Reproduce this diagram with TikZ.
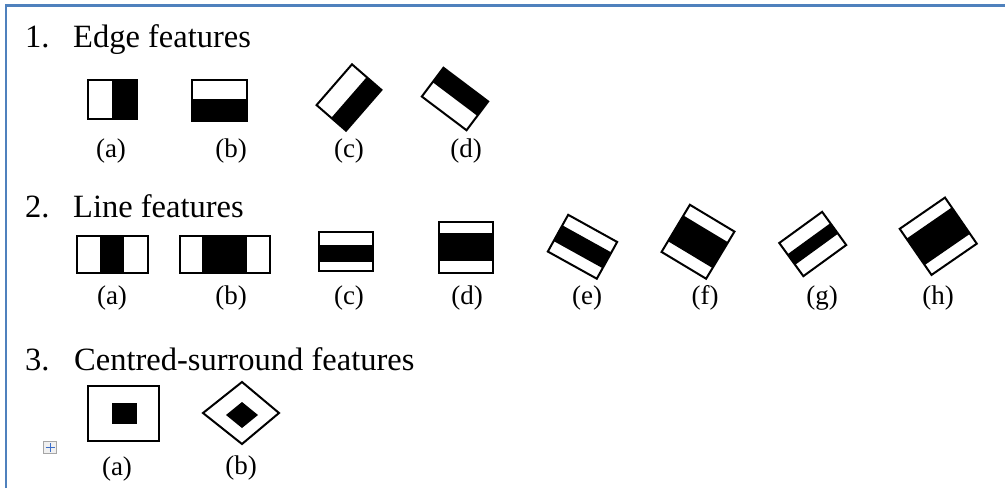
\documentclass[tikz,border=0pt]{standalone}
\usepackage{fontspec}
\setmainfont{Liberation Serif}
\definecolor{bordercol}{RGB}{79,129,189}
\definecolor{iconblue}{RGB}{60,110,200}
\tikzset{
  fbox/.style={draw=black, line width=2pt},
  ffill/.style={fill=black},
  title/.style={anchor=base west, inner sep=0pt, font=\fontsize{32.5}{38}\selectfont},
  lab/.style={anchor=center, inner sep=0pt, font=\fontsize{27}{32}\selectfont},
}
\begin{document}
\begin{tikzpicture}[x=1pt,y=1pt]
\useasboundingbox (0,0) rectangle (1005,-488);
\fill[white] (0,0) rectangle (1005,-488);
% frame
\draw[bordercol, line width=2.5pt] (6.2,-488) -- (6.2,-5.3) -- (1005,-5.3);

% ---------- titles ----------
\node[title] (n1) at (25,-47) {1.};
\node[title] (t1) at (73,-47) {Edge features};
\node[title] (n2) at (25,-217) {2.};
\node[title] (t2) at (73,-217) {Line features};
\node[title] (n3) at (25,-370) {3.};
\node[title] (t3) at (74,-370) {Centred-surround features};

% ---------- 1. Edge features ----------
\fill[ffill] (112,-80) rectangle (137,-119);
\draw[fbox] (88,-80) rectangle (137,-119);
\fill[ffill] (192,-99) rectangle (247,-121);
\draw[fbox] (192,-80) rectangle (247,-121);
\begin{scope}[shift={(349,-97.5)}, rotate=49]
  \fill[ffill] (-27,-19.5) rectangle (27,0);
  \draw[fbox] (-27,-19.5) rectangle (27,19.5);
\end{scope}
\begin{scope}[shift={(455,-99)}, rotate=-37]
  \fill[ffill] (-28,0) rectangle (28,18);
  \draw[fbox] (-28,-18) rectangle (28,18);
\end{scope}
\node[lab] (ea) at (111,-151) {(a)};
\node[lab] (eb) at (231,-151) {(b)};
\node[lab] (ec) at (349,-151) {(c)};
\node[lab] (ed) at (466,-151) {(d)};

% ---------- 2. Line features ----------
\fill[ffill] (100,-236) rectangle (124,-273);
\draw[fbox] (77,-236) rectangle (148,-273);
\fill[ffill] (202,-236) rectangle (247,-273);
\draw[fbox] (180,-236) rectangle (270,-273);
\fill[ffill] (319,-245) rectangle (373,-262);
\draw[fbox] (319,-232) rectangle (373,-271);
\fill[ffill] (439,-233) rectangle (493,-261);
\draw[fbox] (439,-222) rectangle (493,-273);
\begin{scope}[shift={(582.5,-246.75)}, rotate=-29]
  \fill[ffill] (-28,-9) rectangle (28,9);
  \draw[fbox] (-28,-21) rectangle (28,21);
\end{scope}
\begin{scope}[shift={(698,-241.75)}, rotate=-31]
  \fill[ffill] (-26,-15) rectangle (26,15);
  \draw[fbox] (-26,-27.5) rectangle (26,27.5);
\end{scope}
\begin{scope}[shift={(812.75,-244)}, rotate=36]
  \fill[ffill] (-26.5,-6.5) rectangle (26.5,6.5);
  \draw[fbox] (-26.5,-20.5) rectangle (26.5,20.5);
\end{scope}
\begin{scope}[shift={(938.25,-236.25)}, rotate=34.6]
  \fill[ffill] (-27.5,-16) rectangle (27.5,16);
  \draw[fbox] (-27.5,-28) rectangle (27.5,28);
\end{scope}
\node[lab] (la) at (112,-298) {(a)};
\node[lab] (lb) at (231,-298) {(b)};
\node[lab] (lc) at (349,-298) {(c)};
\node[lab] (ld) at (467,-298) {(d)};
\node[lab] (le) at (587,-298) {(e)};
\node[lab] (lf) at (705,-298) {(f)};
\node[lab] (lg) at (822,-298) {(g)};
\node[lab] (lh) at (938,-298) {(h)};

% ---------- 3. Centred-surround features ----------
\fill[ffill] (112,-403) rectangle (137,-424);
\draw[fbox] (88,-386) rectangle (159,-441);
\draw[fbox] (203,-413) -- (242,-382) -- (279,-413) -- (242,-444) -- cycle;
\fill[ffill] (226,-415) -- (242,-402) -- (258,-415) -- (242,-428) -- cycle;
\node[lab] (ca) at (117,-469) {(a)};
\node[lab] (cb) at (241,-468) {(b)};

% small move handle icon
\node[draw=gray!70, fill=gray!12, line width=0.6pt, minimum width=13pt, minimum height=12pt, inner sep=0pt] (icon) at (50,-447) {};
\draw[iconblue, line width=0.8pt] (icon.center) ++(-4.5,0) -- ++(9,0);
\draw[iconblue, line width=0.8pt] (icon.center) ++(0,-4.5) -- ++(0,9);
\end{tikzpicture}
\end{document}
